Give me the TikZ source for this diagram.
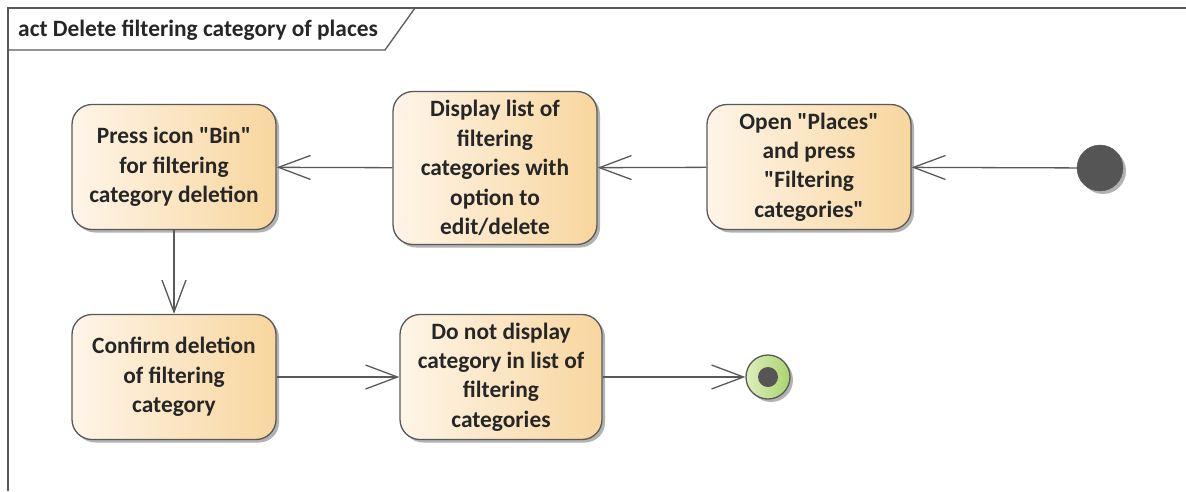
\documentclass[tikz,border=0pt]{standalone}
\usepackage{fontspec}
\setmainfont{Carlito}
\usetikzlibrary{arrows.meta,shadows}

\definecolor{actleft}{HTML}{FEF5E8}
\definecolor{actright}{HTML}{F8D69E}
\definecolor{linegray}{HTML}{595959}
\definecolor{textdark}{HTML}{262626}
\definecolor{startgray}{HTML}{555555}
\definecolor{endleft}{HTML}{DDEFBC}
\definecolor{endright}{HTML}{A9D46E}

\newcommand{\qt}{\textquotedbl}

\tikzset{
	action/.style={draw=linegray, line width=1.3pt, rounded corners=20pt,
		left color=actleft, right color=actright, text=textdark,
		minimum width=204pt, minimum height=125pt, align=center, inner sep=0pt,
		font=\bfseries\fontsize{23.4}{29.4}\selectfont,
		drop shadow={shadow xshift=3pt, shadow yshift=-3pt, opacity=0.3, fill=black}},
	startnode/.style={shape=circle, fill=startgray, draw=startgray, minimum size=46pt, inner sep=0pt,
		drop shadow={shadow xshift=3pt, shadow yshift=-3pt, opacity=0.3, fill=black}},
	endnode/.style={shape=circle, draw=linegray, line width=1.3pt, left color=endleft, right color=endright,
		minimum size=44pt, inner sep=0pt,
		drop shadow={shadow xshift=3pt, shadow yshift=-3pt, opacity=0.3, fill=black}},
	enddot/.style={shape=circle, fill=startgray, minimum size=20pt, inner sep=0pt},
	flow/.style={draw=linegray, line width=1.3pt, -{Straight Barb[length=32pt,width=24pt]}},
	frame/.style={draw=linegray, line width=1.3pt},
}

\begin{document}
\begin{tikzpicture}[x=1pt,y=-1pt]
	\useasboundingbox (0,0) rectangle (1186,491);
	% frame and title tab
	\draw[frame] (1186,8) -- (8,8) -- (8,491);
	\draw[frame] (8,50) -- (385,50) -- (415,8);
	\node[anchor=base west, inner sep=0pt, text=textdark, font=\bfseries\fontsize{23.4}{28}\selectfont] (title) at (18,36) {act Delete filtering category of places};

	\node[startnode] (init) at (1100,168) {};
	\node[action] (open) at (809,167) {Open \qt Places\qt\\and press\\\qt Filtering\\categories\qt};
	\node[action, minimum height=153pt] (display) at (495,168) {Display list of\\filtering\\categories with\\option to\\edit/delete};
	\node[action] (press) at (174,167) {Press icon \qt Bin\qt\\for filtering\\category deletion};
	\node[action] (confirm) at (174,377) {Confirm deletion\\of filtering\\category};
	\node[action, minimum width=202pt] (donot) at (501,377) {Do not display\\category in list of\\filtering\\categories};
	\node[endnode] (final) at (768,377) {};
	\node[enddot] (finaldot) at (final) {};

	\path [flow] (init) edge (open);
	\path [flow] (open) edge (display);
	\path [flow] (display) edge (press);
	\path [flow] (press) edge (confirm);
	\path [flow] (confirm) edge (donot);
	\path [flow] (donot) edge (final);
\end{tikzpicture}
\end{document}
